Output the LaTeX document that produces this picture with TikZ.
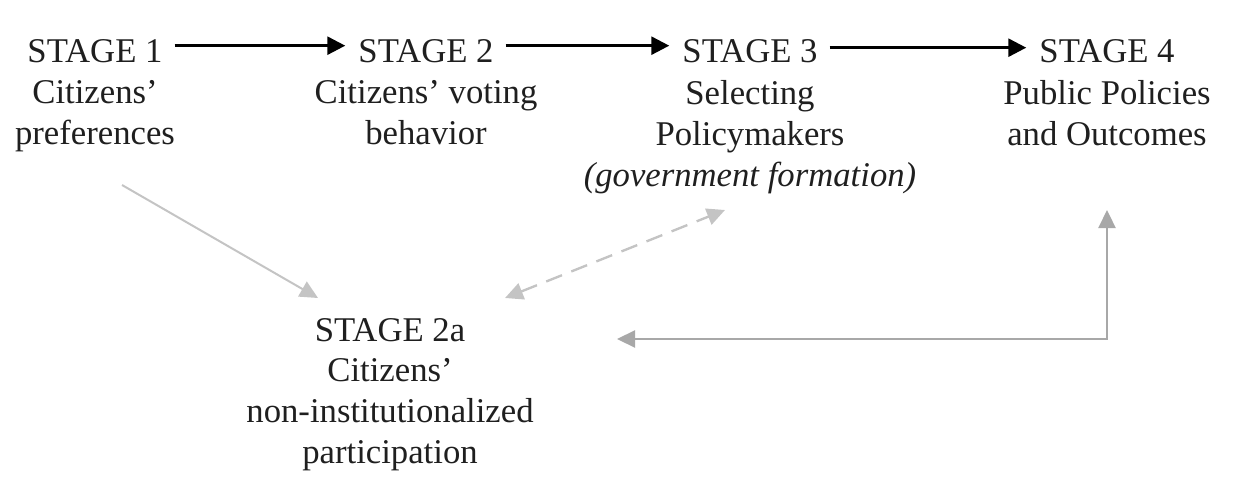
\documentclass[tikz,border=0pt]{standalone}
\usepackage{fontspec}
\setmainfont{Liberation Serif}
\usetikzlibrary{arrows.meta,calc}
\definecolor{lightg}{HTML}{C4C4C4}
\definecolor{midg}{HTML}{A8A8A8}
\colorlet{txt}{black!88}
\begin{document}
\begin{tikzpicture}[x=1pt,y=-1pt,
  lbl/.style={font=\fontsize{34.7}{41}\selectfont, align=center, inner sep=0pt, text=txt},
  blk/.style={line width=2.8pt, -{Triangle[length=18pt,width=18pt]}, shorten <=12pt, shorten >=13pt},
  gry/.style={line width=2pt, draw=lightg, -{Triangle[length=18pt,width=17pt]}},
  dsh/.style={line width=2.4pt, draw=lightg, dash pattern=on 17pt off 10pt, {Triangle[length=18pt,width=17pt]}-{Triangle[length=18pt,width=17pt]}},
  lgr/.style={line width=2.2pt, draw=midg, {Triangle[length=18pt,width=17pt]}-{Triangle[length=18pt,width=17pt]}}
]
\useasboundingbox (0,0) rectangle (1247,489);

\node[lbl,anchor=base] (t1) at (95,63) {STAGE 1};
\node[lbl,anchor=north] (b1) at (95,80) {Citizens’\\preferences};

\node[lbl,anchor=base] (t2) at (426,63) {STAGE 2};
\node[lbl,anchor=north] (b2) at (426,80) {Citizens’ voting\\behavior};

\node[lbl,anchor=base] (t3) at (750,63) {STAGE 3};
\node[lbl,anchor=north] (b3) at (750,80) {Selecting\\Policymakers\\\textit{(government formation)}};

\node[lbl,anchor=base] (t4) at (1107,63) {STAGE 4};
\node[lbl,anchor=north] (b4) at (1107,80) {Public Policies\\and Outcomes};

\node[lbl,anchor=base] (t2a) at (390,341) {STAGE 2a};
\node[lbl,anchor=north] (b2a) at (390,358) {Citizens’\\non-institutionalized\\participation};

\draw[blk] ([yshift=6pt]t1.east) -- ([yshift=6pt]t2.west);
\draw[blk] ([yshift=6pt]t2.east) -- ([yshift=6pt]t3.west);
\draw[blk] ([yshift=4pt]t3.east) -- ([yshift=4pt]t4.west);

\coordinate (g1s) at (122,185);
\coordinate (g1e) at (318,298);
\coordinate (d1) at (505,298);
\coordinate (d2) at (725,210);
\coordinate (l1) at (617,339);
\coordinate (l2) at (1107,210);

\draw[gry] (g1s) -- (g1e);
\draw[dsh] (d1) -- (d2);
\draw[lgr] (l1) -| (l2);
\end{tikzpicture}
\end{document}
